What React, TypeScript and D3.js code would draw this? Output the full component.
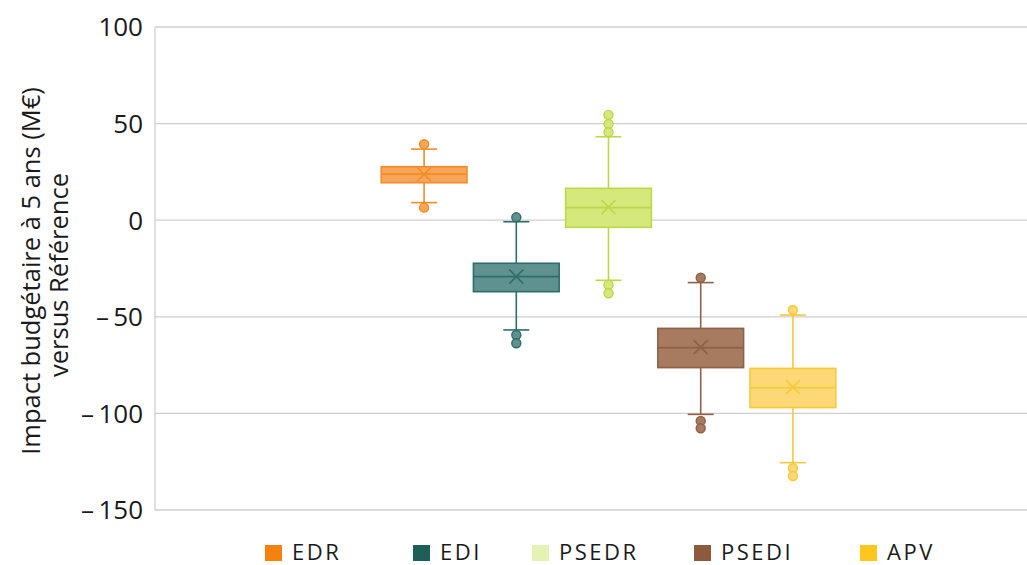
import React from "react";
import * as d3 from "d3";

const seriesNames = ["EDR", "EDI", "PSEDR", "PSEDI", "APV"];
const q1 = [19.4, -37, -3.7, -76.3, -97];
const median = [23.8, -29.2, 6.5, -66, -86.7];
const q3 = [27.7, -22.3, 16.5, -56, -76.7];
const mean = [23.8, -29.2, 6.8, -65.7, -86.4];
const whiskerLow = [9.1, -56.8, -31.1, -100.5, -125.5];
const whiskerHigh = [36.8, -0.8, 43.2, -32.3, -49.1];
const outliers = [
  [39.3, 6.5],
  [1.5, -59.4, -63.7],
  [54.5, 49.8, 45.5, -33.5, -37.8],
  [-29.8, -103.9, -107.7],
  [-46.5, -128.4, -132.4],
];
const yTicks = [100, 50, 0, -50, -100, -150];

const legendColors = ["#F5820D", "#1E5F58", "#E5F2B5", "#8C5A3C", "#FFC61E"];
const strokeColors = ["#F28B2A", "#2E6E69", "#BCD848", "#8E6146", "#F5C93A"];
const fillColors = ["#F9A557", "#5F928F", "#D5E87C", "#A67B60", "#FDD876"];

const W = 1027;
const H = 565;
const plotLeft = 155;
const plotRight = 1027;
const plotTop = 27;
const plotBottom = 510;

const fmt = (v: number) => (v < 0 ? "\u2013\u2009" + Math.abs(v) : String(v));

export default function App() {
  const y = d3.scaleLinear().domain([-150, 100]).range([plotBottom, plotTop]);
  const x = d3
    .scaleBand<string>()
    .domain(seriesNames)
    .range([378, 839])
    .paddingInner(0.07)
    .paddingOuter(0.035);
  const bw = x.bandwidth();
  const capW = 26;
  const xs = 7;
  const legendX = [265, 413, 532, 694, 860];

  return (
    <svg
      width={W}
      height={H}
      style={{ position: "absolute", left: 0, top: 0, background: "#fff" }}
      fontFamily="'Open Sans', sans-serif"
    >
      {yTicks.map((t) => (
        <line
          key={"g" + t}
          x1={plotLeft}
          x2={plotRight}
          y1={y(t)}
          y2={y(t)}
          stroke="#cfcfcf"
          strokeWidth={1.3}
        />
      ))}
      <line x1={plotLeft} x2={plotLeft} y1={plotTop} y2={plotBottom} stroke="#cfcfcf" strokeWidth={1.3} />
      {yTicks.map((t) => (
        <text
          key={"t" + t}
          x={143}
          y={y(t)}
          dy="0.36em"
          textAnchor="end"
          fontSize={26}
          fill="#1a1a1a"
        >
          {fmt(t)}
        </text>
      ))}
      <g transform="translate(31,271) rotate(-90)">
        <text textAnchor="middle" fontSize={25.5} fill="#1a1a1a" dy="0.36em">
          Impact budgétaire à 5 ans (M€)
        </text>
      </g>
      <g transform="translate(59,275) rotate(-90)">
        <text textAnchor="middle" fontSize={25.5} fill="#1a1a1a" dy="0.36em">
          versus Référence
        </text>
      </g>
      {seriesNames.map((s, i) => {
        const x0 = x(s)!;
        const cx = x0 + bw / 2;
        const sc = strokeColors[i];
        return (
          <g key={s}>
            <line x1={cx} x2={cx} y1={y(whiskerHigh[i])} y2={y(q3[i])} stroke={sc} strokeWidth={1.6} />
            <line x1={cx} x2={cx} y1={y(q1[i])} y2={y(whiskerLow[i])} stroke={sc} strokeWidth={1.6} />
            <line x1={cx - capW / 2} x2={cx + capW / 2} y1={y(whiskerHigh[i])} y2={y(whiskerHigh[i])} stroke={sc} strokeWidth={1.6} />
            <line x1={cx - capW / 2} x2={cx + capW / 2} y1={y(whiskerLow[i])} y2={y(whiskerLow[i])} stroke={sc} strokeWidth={1.6} />
            <rect
              x={x0}
              y={y(q3[i])}
              width={bw}
              height={y(q1[i]) - y(q3[i])}
              fill={fillColors[i]}
              stroke={sc}
              strokeWidth={1.6}
            />
            <line x1={x0} x2={x0 + bw} y1={y(median[i])} y2={y(median[i])} stroke={sc} strokeWidth={1.8} />
            <path
              d={`M${cx - xs},${y(mean[i]) - xs}L${cx + xs},${y(mean[i]) + xs}M${cx - xs},${y(mean[i]) + xs}L${cx + xs},${y(mean[i]) - xs}`}
              stroke={sc}
              strokeWidth={1.6}
              fill="none"
            />
            {outliers[i].map((o, j) => (
              <circle key={j} cx={cx} cy={y(o)} r={4.5} fill={fillColors[i]} stroke={sc} strokeWidth={1.4} />
            ))}
          </g>
        );
      })}
      {seriesNames.map((s, i) => (
        <g key={"l" + s} transform={`translate(${legendX[i]},545)`}>
          <rect x={0} y={0} width={17} height={16} fill={legendColors[i]} />
          <text x={27} y={14.5} fontSize={22} fill="#1a1a1a" letterSpacing={2.5}>
            {s}
          </text>
        </g>
      ))}
    </svg>
  );
}
